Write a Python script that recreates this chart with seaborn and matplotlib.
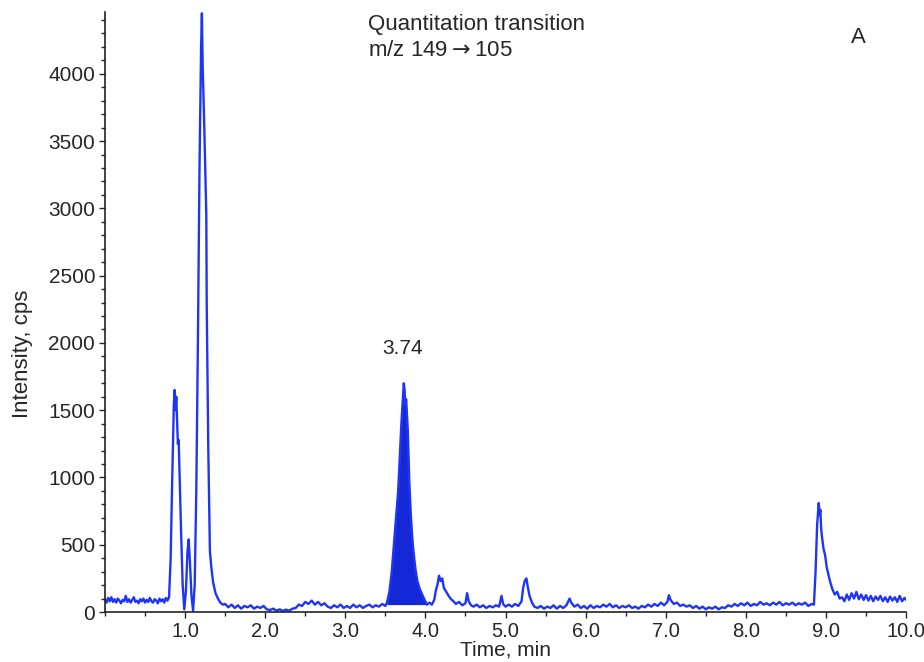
import matplotlib
matplotlib.use("Agg")
import matplotlib.pyplot as plt
from matplotlib.ticker import MultipleLocator
import seaborn as sns
import numpy as np
import pandas as pd

# chromatogram (time in min, intensity in cps)
time_min = [
    0.00, 0.02, 0.04, 0.06, 0.08, 0.10, 0.12, 0.14, 0.16, 0.18, 0.20, 0.22, 0.24, 0.26, 0.28,
    0.30, 0.32, 0.34, 0.36, 0.38, 0.40, 0.42, 0.44, 0.46, 0.48, 0.50, 0.52, 0.54, 0.56, 0.58,
    0.60, 0.62, 0.64, 0.66, 0.68, 0.70, 0.72, 0.74, 0.76, 0.78, 0.80, 0.82, 0.84, 0.86, 0.87,
    0.88, 0.89, 0.90, 0.91, 0.92, 0.93, 0.95, 0.97, 0.99, 1.01, 1.03, 1.045, 1.06, 1.08, 1.10,
    1.12, 1.14, 1.16, 1.18, 1.20, 1.21, 1.22, 1.24, 1.26, 1.265, 1.27, 1.29, 1.31, 1.33, 1.35,
    1.38, 1.41, 1.44, 1.47, 1.50, 1.54, 1.58, 1.62, 1.66, 1.70, 1.74, 1.78, 1.82, 1.86, 1.90,
    1.94, 1.98, 2.02, 2.06, 2.10, 2.14, 2.18, 2.22, 2.26, 2.30, 2.34, 2.38, 2.42, 2.46, 2.50,
    2.54, 2.58, 2.62, 2.66, 2.70, 2.74, 2.78, 2.82, 2.86, 2.90, 2.94, 2.98, 3.02, 3.06, 3.10,
    3.14, 3.18, 3.22, 3.26, 3.30, 3.34, 3.38, 3.42, 3.46, 3.50, 3.52, 3.55, 3.58, 3.60, 3.62,
    3.64, 3.66, 3.68, 3.70, 3.72, 3.73, 3.74, 3.75, 3.76, 3.78, 3.80, 3.82, 3.84, 3.86, 3.88,
    3.90, 3.93, 3.96, 3.99, 4.02, 4.05, 4.08, 4.11, 4.13, 4.15, 4.17, 4.19, 4.21, 4.23, 4.26,
    4.29, 4.32, 4.35, 4.38, 4.42, 4.46, 4.50, 4.52, 4.54, 4.57, 4.60, 4.64, 4.68, 4.72, 4.76,
    4.80, 4.84, 4.88, 4.92, 4.95, 4.97, 5.00, 5.04, 5.08, 5.12, 5.16, 5.20, 5.22, 5.24, 5.26,
    5.28, 5.30, 5.33, 5.36, 5.40, 5.44, 5.48, 5.52, 5.56, 5.60, 5.64, 5.68, 5.72, 5.76, 5.80,
    5.82, 5.86, 5.90, 5.94, 5.98, 6.02, 6.06, 6.10, 6.14, 6.18, 6.22, 6.26, 6.30, 6.34, 6.38,
    6.42, 6.46, 6.50, 6.54, 6.58, 6.62, 6.66, 6.70, 6.74, 6.78, 6.82, 6.86, 6.90, 6.94, 6.98,
    7.02, 7.04, 7.06, 7.10, 7.14, 7.18, 7.22, 7.26, 7.30, 7.34, 7.38, 7.42, 7.46, 7.50, 7.54,
    7.58, 7.62, 7.66, 7.70, 7.74, 7.78, 7.82, 7.86, 7.90, 7.94, 7.98, 8.02, 8.06, 8.10, 8.14,
    8.18, 8.22, 8.26, 8.30, 8.34, 8.38, 8.42, 8.46, 8.50, 8.54, 8.58, 8.62, 8.66, 8.70, 8.74,
    8.78, 8.82, 8.85, 8.87, 8.89, 8.91, 8.92, 8.93, 8.94, 8.95, 8.97, 8.99, 9.01, 9.03, 9.05,
    9.08, 9.11, 9.14, 9.17, 9.20, 9.23, 9.26, 9.29, 9.32, 9.35, 9.38, 9.41, 9.44, 9.47, 9.50,
    9.53, 9.56, 9.59, 9.62, 9.65, 9.68, 9.71, 9.74, 9.77, 9.80, 9.83, 9.86, 9.89, 9.92, 9.95,
    9.98, 10.00,
]
intensity_cps = [
    95, 70, 105, 80, 110, 75, 95, 70, 100, 85, 65, 90, 80, 120, 75,
    95, 70, 90, 110, 75, 85, 65, 95, 80, 100, 70, 90, 75, 105, 80,
    70, 95, 85, 65, 100, 80, 95, 70, 105, 85, 110, 400, 1000, 1550, 1650,
    1500, 1600, 1420, 1250, 1280, 1050, 600, 200, 20, 150, 450, 540, 380, 120, 10,
    200, 900, 2000, 3300, 4200, 4450, 4050, 3600, 3050, 2950, 2300, 1200, 450, 320, 220,
    140, 100, 70, 55, 60, 35, 55, 30, 50, 25, 45, 35, 50, 25, 40,
    30, 45, 20, 15, 25, 10, 20, 8, 18, 10, 25, 30, 55, 45, 75,
    60, 85, 55, 75, 50, 65, 40, 30, 50, 35, 55, 30, 45, 30, 55,
    35, 50, 30, 45, 55, 35, 50, 40, 60, 45, 70, 150, 300, 450, 600,
    750, 900, 1150, 1400, 1600, 1700, 1650, 1550, 1580, 1350, 950, 700, 520, 400, 300,
    230, 170, 130, 90, 55, 70, 55, 90, 160, 200, 270, 230, 250, 180, 150,
    120, 95, 80, 60, 75, 50, 65, 140, 80, 50, 40, 55, 35, 50, 30,
    45, 35, 50, 40, 120, 60, 40, 55, 40, 60, 45, 80, 180, 230, 250,
    180, 120, 70, 40, 30, 45, 25, 40, 30, 50, 25, 45, 30, 50, 100,
    70, 40, 55, 30, 45, 25, 50, 30, 45, 35, 55, 40, 60, 35, 50,
    30, 45, 35, 50, 30, 40, 25, 45, 35, 55, 40, 60, 45, 70, 50,
    75, 125, 90, 60, 70, 45, 55, 40, 50, 30, 45, 25, 40, 20, 35,
    25, 40, 20, 35, 30, 50, 40, 60, 45, 65, 50, 70, 45, 60, 50,
    75, 55, 65, 50, 70, 55, 75, 50, 65, 55, 70, 50, 65, 55, 70,
    45, 60, 55, 300, 650, 810, 720, 760, 620, 560, 470, 420, 330, 280, 230,
    170, 130, 150, 100, 110, 80, 130, 90, 140, 100, 150, 95, 130, 90, 125,
    85, 120, 80, 115, 90, 120, 80, 110, 75, 115, 85, 110, 75, 120, 80,
    105, 90,
]

# integrated peak window
peak_start, peak_end = 3.52, 4.02
peak_label = "3.74"
peak_base = 55

df = pd.DataFrame({"Time": time_min, "Intensity": intensity_cps})

sns.set_style("ticks")
plt.rcParams["font.family"] = ["Liberation Sans", "DejaVu Sans"]

blue = "#1f35f5"

fig = plt.figure(figsize=(9.24, 6.62), dpi=100)
ax = fig.add_axes([0.1136, 0.0755, 0.867, 0.9065])

sns.lineplot(data=df, x="Time", y="Intensity", ax=ax, color=blue, linewidth=1.7,
             estimator=None, sort=False)

pk = df[(df["Time"] >= peak_start) & (df["Time"] <= peak_end)]
ax.fill_between(pk["Time"], pk["Intensity"], peak_base, color="#1428d8", linewidth=0)

ax.set_xlim(0, 10.0)
ax.set_ylim(0, 4460)
ax.set_xticks(np.arange(1, 11))
ax.set_xticklabels([f"{v:.1f}" for v in np.arange(1, 11)])
ax.xaxis.set_minor_locator(MultipleLocator(0.5))
ax.set_yticks(np.arange(0, 4001, 500))
ax.yaxis.set_minor_locator(MultipleLocator(100))
ax.tick_params(axis="both", which="major", labelsize=15, length=4, width=1, direction="out", pad=3)
ax.tick_params(axis="x", which="major", labelsize=14.5)
ax.tick_params(axis="both", which="minor", length=3, width=1, direction="out")
sns.despine(ax=ax)
for s in ["left", "bottom"]:
    ax.spines[s].set_linewidth(1.2)
    ax.spines[s].set_color("#222222")

ax.set_xlabel("Time, min", fontsize=15, labelpad=0)
ax.set_ylabel("Intensity, cps", fontsize=16)
ax.yaxis.set_label_coords(-0.09, 0.43)

ax.text(0.328, 0.997, "Quantitation transition\nm/z 149$\\rightarrow$105", transform=ax.transAxes,
        fontsize=16, ha="left", va="top", linespacing=1.35)
ax.text(0.94, 0.957, "A", transform=ax.transAxes, fontsize=16, ha="center", va="center")
ax.text(3.72, 1960, peak_label, fontsize=15, ha="center", va="center")

fig.savefig("out.png", dpi=100)
